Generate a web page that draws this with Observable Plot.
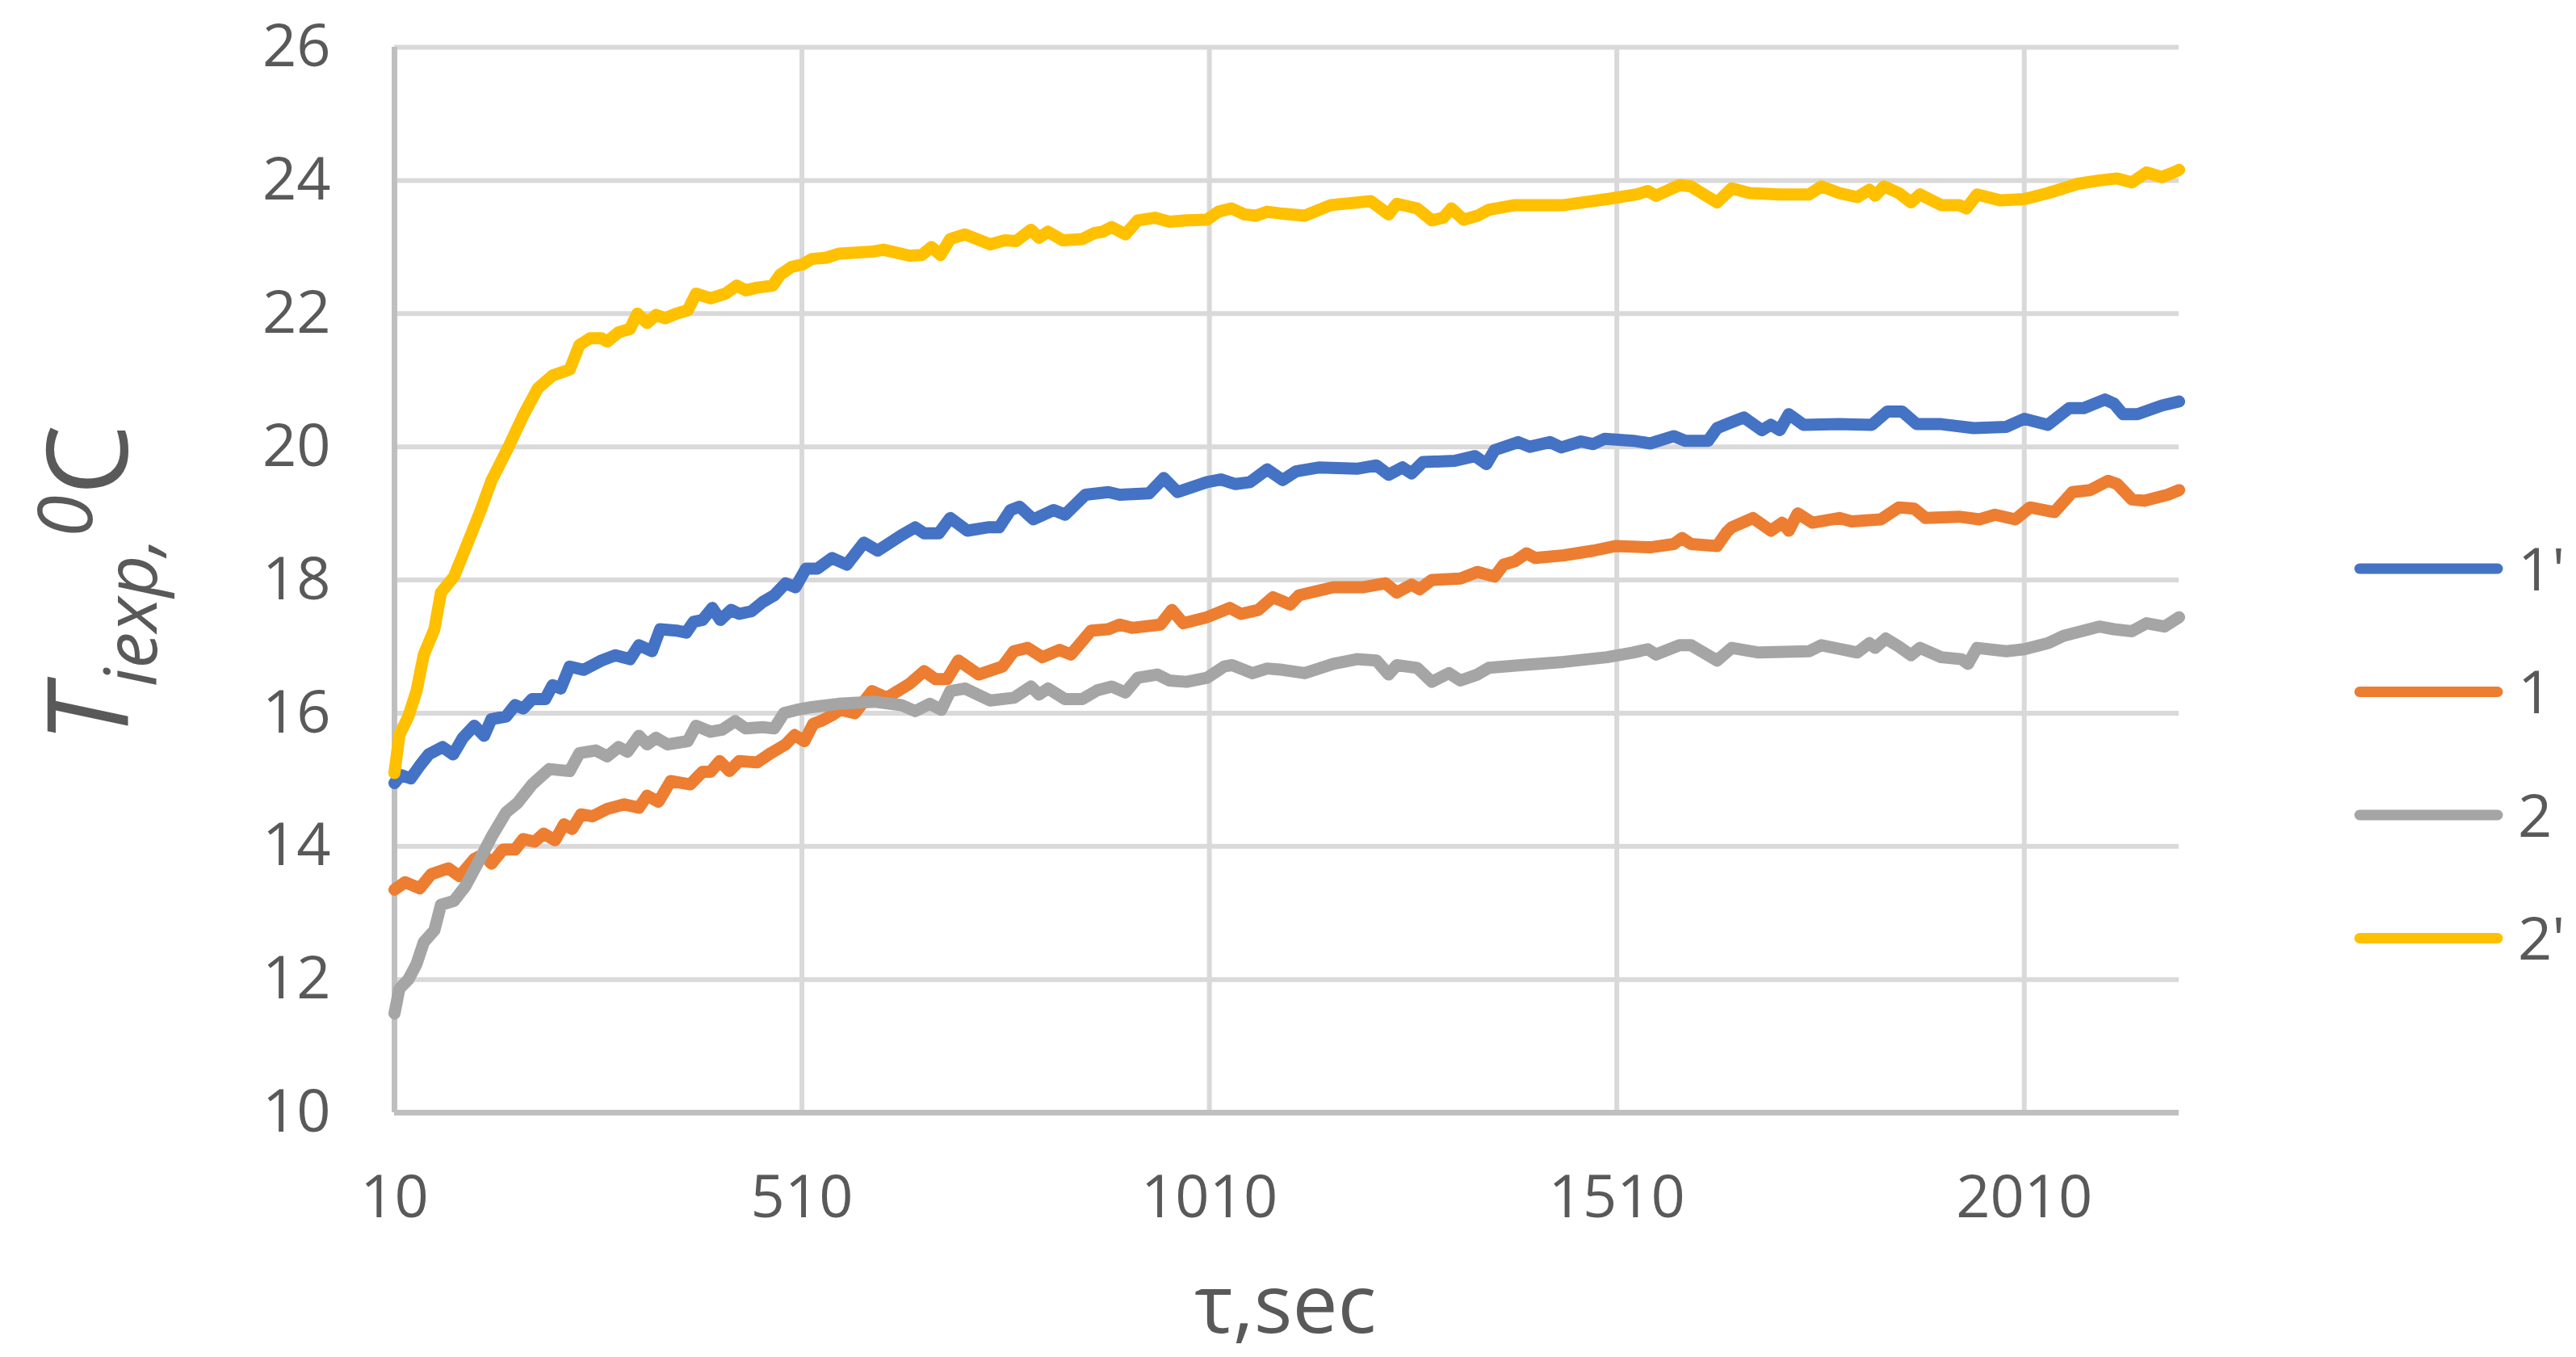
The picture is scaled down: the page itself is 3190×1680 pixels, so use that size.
<!DOCTYPE html>
<html>
<head>
<meta charset="utf-8">
<script src="https://cdn.jsdelivr.net/npm/d3@7"></script>
<script src="https://cdn.jsdelivr.net/npm/@observablehq/plot@0.6"></script>
<style>
  html, body { margin: 0; padding: 0; background: #ffffff; }
  #wrap { position: relative; width: 3190px; height: 1680px; font-family: "Open Sans", sans-serif; }
  #overlay { position: absolute; left: 0; top: 0; pointer-events: none; }
</style>
</head>
<body>
<div id="wrap"></div>
<script>
// ---- data ----
const xTicks = [10, 510, 1010, 1510, 2010];
const yTicks = [10, 12, 14, 16, 18, 20, 22, 24, 26];
const seriesNames = ["1'", "1", "2", "2'"];
const seriesColors = ["#4472C4", "#ED7D31", "#A5A5A5", "#FFC000"];

const tau1p = [10,18,30,41,52,69,82,94,108,120,129,147,158,168,179,195,204,214,225,242,264,281,299,310,326,336,356,368,377,388,400,410,423,433,448,462,476,490,502,515,529,547,565,586,603,632,649,660,678,692,713,738,752,766,777,794,819,833,858,886,900,936,954,971,1007,1024,1042,1060,1081,1100,1116,1145,1191,1215,1230,1247,1258,1272,1311,1336,1350,1360,1389,1403,1428,1442,1466,1481,1495,1530,1551,1580,1594,1622,1633,1647,1666,1688,1699,1710,1721,1739,1783,1823,1842,1860,1878,1908,1948,1988,2010,2039,2065,2083,2109,2120,2131,2149,2179,2200];
const temp1p = [14.95,15.07,15.02,15.21,15.38,15.49,15.38,15.63,15.81,15.66,15.91,15.95,16.12,16.07,16.21,16.21,16.42,16.37,16.70,16.65,16.79,16.87,16.81,17.02,16.93,17.26,17.24,17.21,17.37,17.40,17.58,17.40,17.55,17.49,17.53,17.67,17.77,17.95,17.89,18.17,18.17,18.33,18.23,18.56,18.44,18.67,18.79,18.70,18.70,18.93,18.74,18.79,18.79,19.05,19.10,18.91,19.05,18.98,19.28,19.32,19.28,19.30,19.53,19.32,19.47,19.51,19.44,19.47,19.66,19.50,19.63,19.69,19.67,19.72,19.58,19.69,19.60,19.77,19.79,19.86,19.74,19.95,20.07,20.00,20.07,19.99,20.08,20.04,20.12,20.09,20.05,20.16,20.09,20.09,20.28,20.35,20.44,20.25,20.33,20.25,20.49,20.33,20.34,20.33,20.53,20.53,20.34,20.34,20.28,20.30,20.42,20.33,20.58,20.58,20.71,20.65,20.49,20.49,20.62,20.68];

const tau1 = [10,23,41,55,76,90,108,119,129,143,158,168,182,193,207,218,228,239,253,271,292,310,320,334,349,373,388,398,409,421,433,455,472,490,501,513,524,533,547,557,575,596,614,642,660,674,688,702,727,756,770,787,805,826,840,865,886,900,915,950,964,978,1007,1035,1049,1070,1088,1100,1109,1120,1162,1198,1226,1240,1258,1268,1283,1318,1339,1360,1371,1385,1399,1410,1445,1481,1509,1551,1580,1590,1601,1633,1645,1651,1677,1699,1713,1721,1732,1750,1783,1798,1834,1856,1875,1889,1930,1955,1974,1999,2017,2047,2069,2091,2113,2124,2142,2157,2186,2200];
const temp1 = [13.35,13.46,13.37,13.58,13.67,13.55,13.81,13.88,13.74,13.95,13.95,14.11,14.07,14.19,14.09,14.33,14.26,14.48,14.45,14.56,14.63,14.58,14.76,14.67,14.98,14.93,15.12,15.12,15.28,15.13,15.28,15.26,15.40,15.53,15.67,15.58,15.84,15.88,15.97,16.05,16.00,16.33,16.23,16.44,16.63,16.51,16.51,16.79,16.58,16.70,16.93,16.98,16.84,16.95,16.88,17.24,17.26,17.33,17.28,17.33,17.55,17.35,17.44,17.58,17.49,17.55,17.74,17.68,17.63,17.77,17.89,17.89,17.95,17.81,17.93,17.86,18.00,18.02,18.12,18.05,18.23,18.28,18.40,18.33,18.37,18.44,18.51,18.49,18.54,18.63,18.54,18.51,18.72,18.79,18.93,18.74,18.86,18.74,19.00,18.86,18.93,18.88,18.91,19.09,19.07,18.93,18.95,18.91,18.98,18.91,19.09,19.02,19.32,19.35,19.49,19.44,19.21,19.19,19.28,19.35];

const tau2 = [10,16,27,37,46,59,67,83,97,115,129,147,161,179,200,225,237,257,271,285,296,310,320,331,345,370,380,398,412,428,441,462,476,488,504,522,555,600,632,649,667,681,692,710,741,770,791,801,812,833,854,872,890,907,922,946,961,982,1007,1028,1038,1063,1081,1100,1127,1162,1191,1215,1230,1240,1265,1283,1304,1318,1339,1353,1392,1445,1498,1530,1548,1558,1587,1601,1633,1651,1684,1746,1761,1805,1820,1827,1840,1856,1871,1882,1908,1933,1941,1952,1988,2010,2039,2058,2102,2120,2142,2160,2182,2200];
const temp2 = [11.49,11.86,12.00,12.23,12.56,12.74,13.12,13.18,13.40,13.81,14.14,14.51,14.65,14.93,15.16,15.13,15.40,15.44,15.35,15.49,15.42,15.66,15.53,15.63,15.53,15.58,15.81,15.72,15.75,15.88,15.77,15.79,15.77,16.00,16.05,16.09,16.14,16.17,16.12,16.03,16.14,16.05,16.33,16.37,16.19,16.23,16.40,16.28,16.37,16.21,16.21,16.34,16.40,16.31,16.53,16.58,16.49,16.47,16.53,16.70,16.72,16.60,16.67,16.65,16.60,16.74,16.81,16.79,16.58,16.72,16.68,16.47,16.60,16.49,16.58,16.68,16.72,16.77,16.84,16.91,16.96,16.88,17.02,17.02,16.79,16.98,16.91,16.93,17.02,16.91,17.05,16.98,17.12,17.00,16.87,16.98,16.84,16.81,16.74,16.98,16.93,16.96,17.05,17.16,17.30,17.26,17.23,17.35,17.30,17.44];

const tau2p = [10,16,27,37,46,59,67,83,97,115,129,150,168,186,204,225,237,250,264,271,285,299,308,320,331,342,356,370,380,398,416,430,441,455,474,483,497,511,522,540,555,568,596,610,642,657,669,680,692,710,741,759,773,791,801,812,830,854,869,879,890,907,922,943,961,982,1007,1021,1037,1053,1067,1081,1100,1127,1159,1208,1230,1240,1265,1283,1297,1307,1322,1339,1353,1385,1445,1498,1534,1548,1558,1587,1601,1633,1651,1673,1710,1746,1761,1783,1805,1820,1827,1838,1856,1871,1882,1908,1930,1939,1952,1981,2010,2039,2076,2102,2124,2142,2160,2179,2193,2200];
const temp2p = [15.10,15.67,15.95,16.33,16.88,17.26,17.81,18.05,18.47,19.02,19.49,20.00,20.47,20.88,21.07,21.16,21.53,21.63,21.63,21.58,21.72,21.77,22.00,21.86,21.98,21.93,22.00,22.05,22.30,22.23,22.30,22.42,22.35,22.39,22.42,22.58,22.70,22.74,22.82,22.84,22.90,22.91,22.93,22.96,22.87,22.88,23.00,22.88,23.12,23.19,23.04,23.10,23.09,23.26,23.14,23.23,23.10,23.12,23.21,23.23,23.30,23.19,23.40,23.44,23.38,23.40,23.41,23.53,23.58,23.49,23.47,23.53,23.50,23.47,23.63,23.69,23.49,23.65,23.58,23.40,23.44,23.58,23.41,23.47,23.56,23.63,23.63,23.72,23.79,23.84,23.77,23.93,23.91,23.67,23.88,23.81,23.79,23.79,23.91,23.81,23.75,23.86,23.77,23.91,23.81,23.67,23.79,23.63,23.63,23.58,23.79,23.70,23.72,23.81,23.95,24.00,24.03,23.97,24.12,24.05,24.12,24.16];

const seriesTau = [tau1p, tau1, tau2, tau2p];
const seriesTemp = [temp1p, temp1, temp2, temp2p];

// ---- build ----
const W = 3190, H = 1680;
const textColor = "#595959";
const font = "'Open Sans', sans-serif";

const lineMarks = seriesNames.map((name, k) => {
  const rows = seriesTau[k].map((t, i) => ({tau: t, temp: seriesTemp[k][i], series: name}));
  return Plot.line(rows, {
    x: "tau", y: "temp",
    stroke: seriesColors[k], strokeWidth: 15,
    strokeLinejoin: "round", strokeLinecap: "round"
  });
});

const chart = Plot.plot({
  width: W, height: H,
  marginLeft: 488, marginRight: 492, marginTop: 58, marginBottom: 303,
  style: {fontFamily: font, color: textColor, background: "#ffffff", overflow: "visible"},
  x: {domain: [10, 2200]},
  y: {domain: [10, 26]},
  marks: [
    Plot.ruleX(xTicks.slice(1), {stroke: "#d9d9d9", strokeWidth: 6}),
    Plot.ruleY(yTicks.slice(1), {stroke: "#d9d9d9", strokeWidth: 6}),
    Plot.ruleX(xTicks.slice(0, 1), {stroke: "#bfbfbf", strokeWidth: 7}),
    Plot.ruleY(yTicks.slice(0, 1), {stroke: "#bfbfbf", strokeWidth: 7}),
    Plot.axisX(xTicks, {tickSize: 0, tickPadding: 77, fontSize: 74, fill: textColor, label: null, tickFormat: d => String(d)}),
    Plot.axisY(yTicks, {tickSize: 0, tickPadding: 79, fontSize: 74, fill: textColor, label: null, tickFormat: d => String(d)}),
    ...lineMarks
  ]
});

const wrap = document.getElementById("wrap");
wrap.appendChild(chart);

// ---- titles and legend overlay ----
const ov = d3.select(wrap).append("svg")
  .attr("id", "overlay")
  .attr("width", W).attr("height", H)
  .attr("viewBox", `0 0 ${W} ${H}`)
  .style("font-family", font);

// y-axis title
const yt = ov.append("text")
  .attr("transform", "translate(158,920) rotate(-90)")
  .attr("fill", textColor)
  .attr("font-size", 140);
yt.append("tspan").attr("font-style", "italic").text("T");
yt.append("tspan").attr("font-style", "italic").attr("font-size", 90).attr("dy", 36).text("iexp,");
yt.append("tspan").attr("font-style", "italic").attr("font-size", 94).attr("dy", -80).text("0");
yt.append("tspan").attr("dy", 44).text("C");

// x-axis title
ov.append("text")
  .attr("x", 1592).attr("y", 1650)
  .attr("text-anchor", "middle")
  .attr("fill", textColor)
  .attr("font-size", 100)
  .text("τ,sec");

// legend
const lg = ov.append("g");
seriesNames.forEach((name, i) => {
  const cy = 704 + i * 152.5;
  lg.append("line")
    .attr("x1", 2922).attr("x2", 3093)
    .attr("y1", cy).attr("y2", cy)
    .attr("stroke", seriesColors[i])
    .attr("stroke-width", 13)
    .attr("stroke-linecap", "round");
  lg.append("text")
    .attr("x", 3118).attr("y", cy)
    .attr("dy", "0.36em")
    .attr("fill", textColor)
    .attr("font-size", 74)
    .text(name);
});
</script>
</body>
</html>
